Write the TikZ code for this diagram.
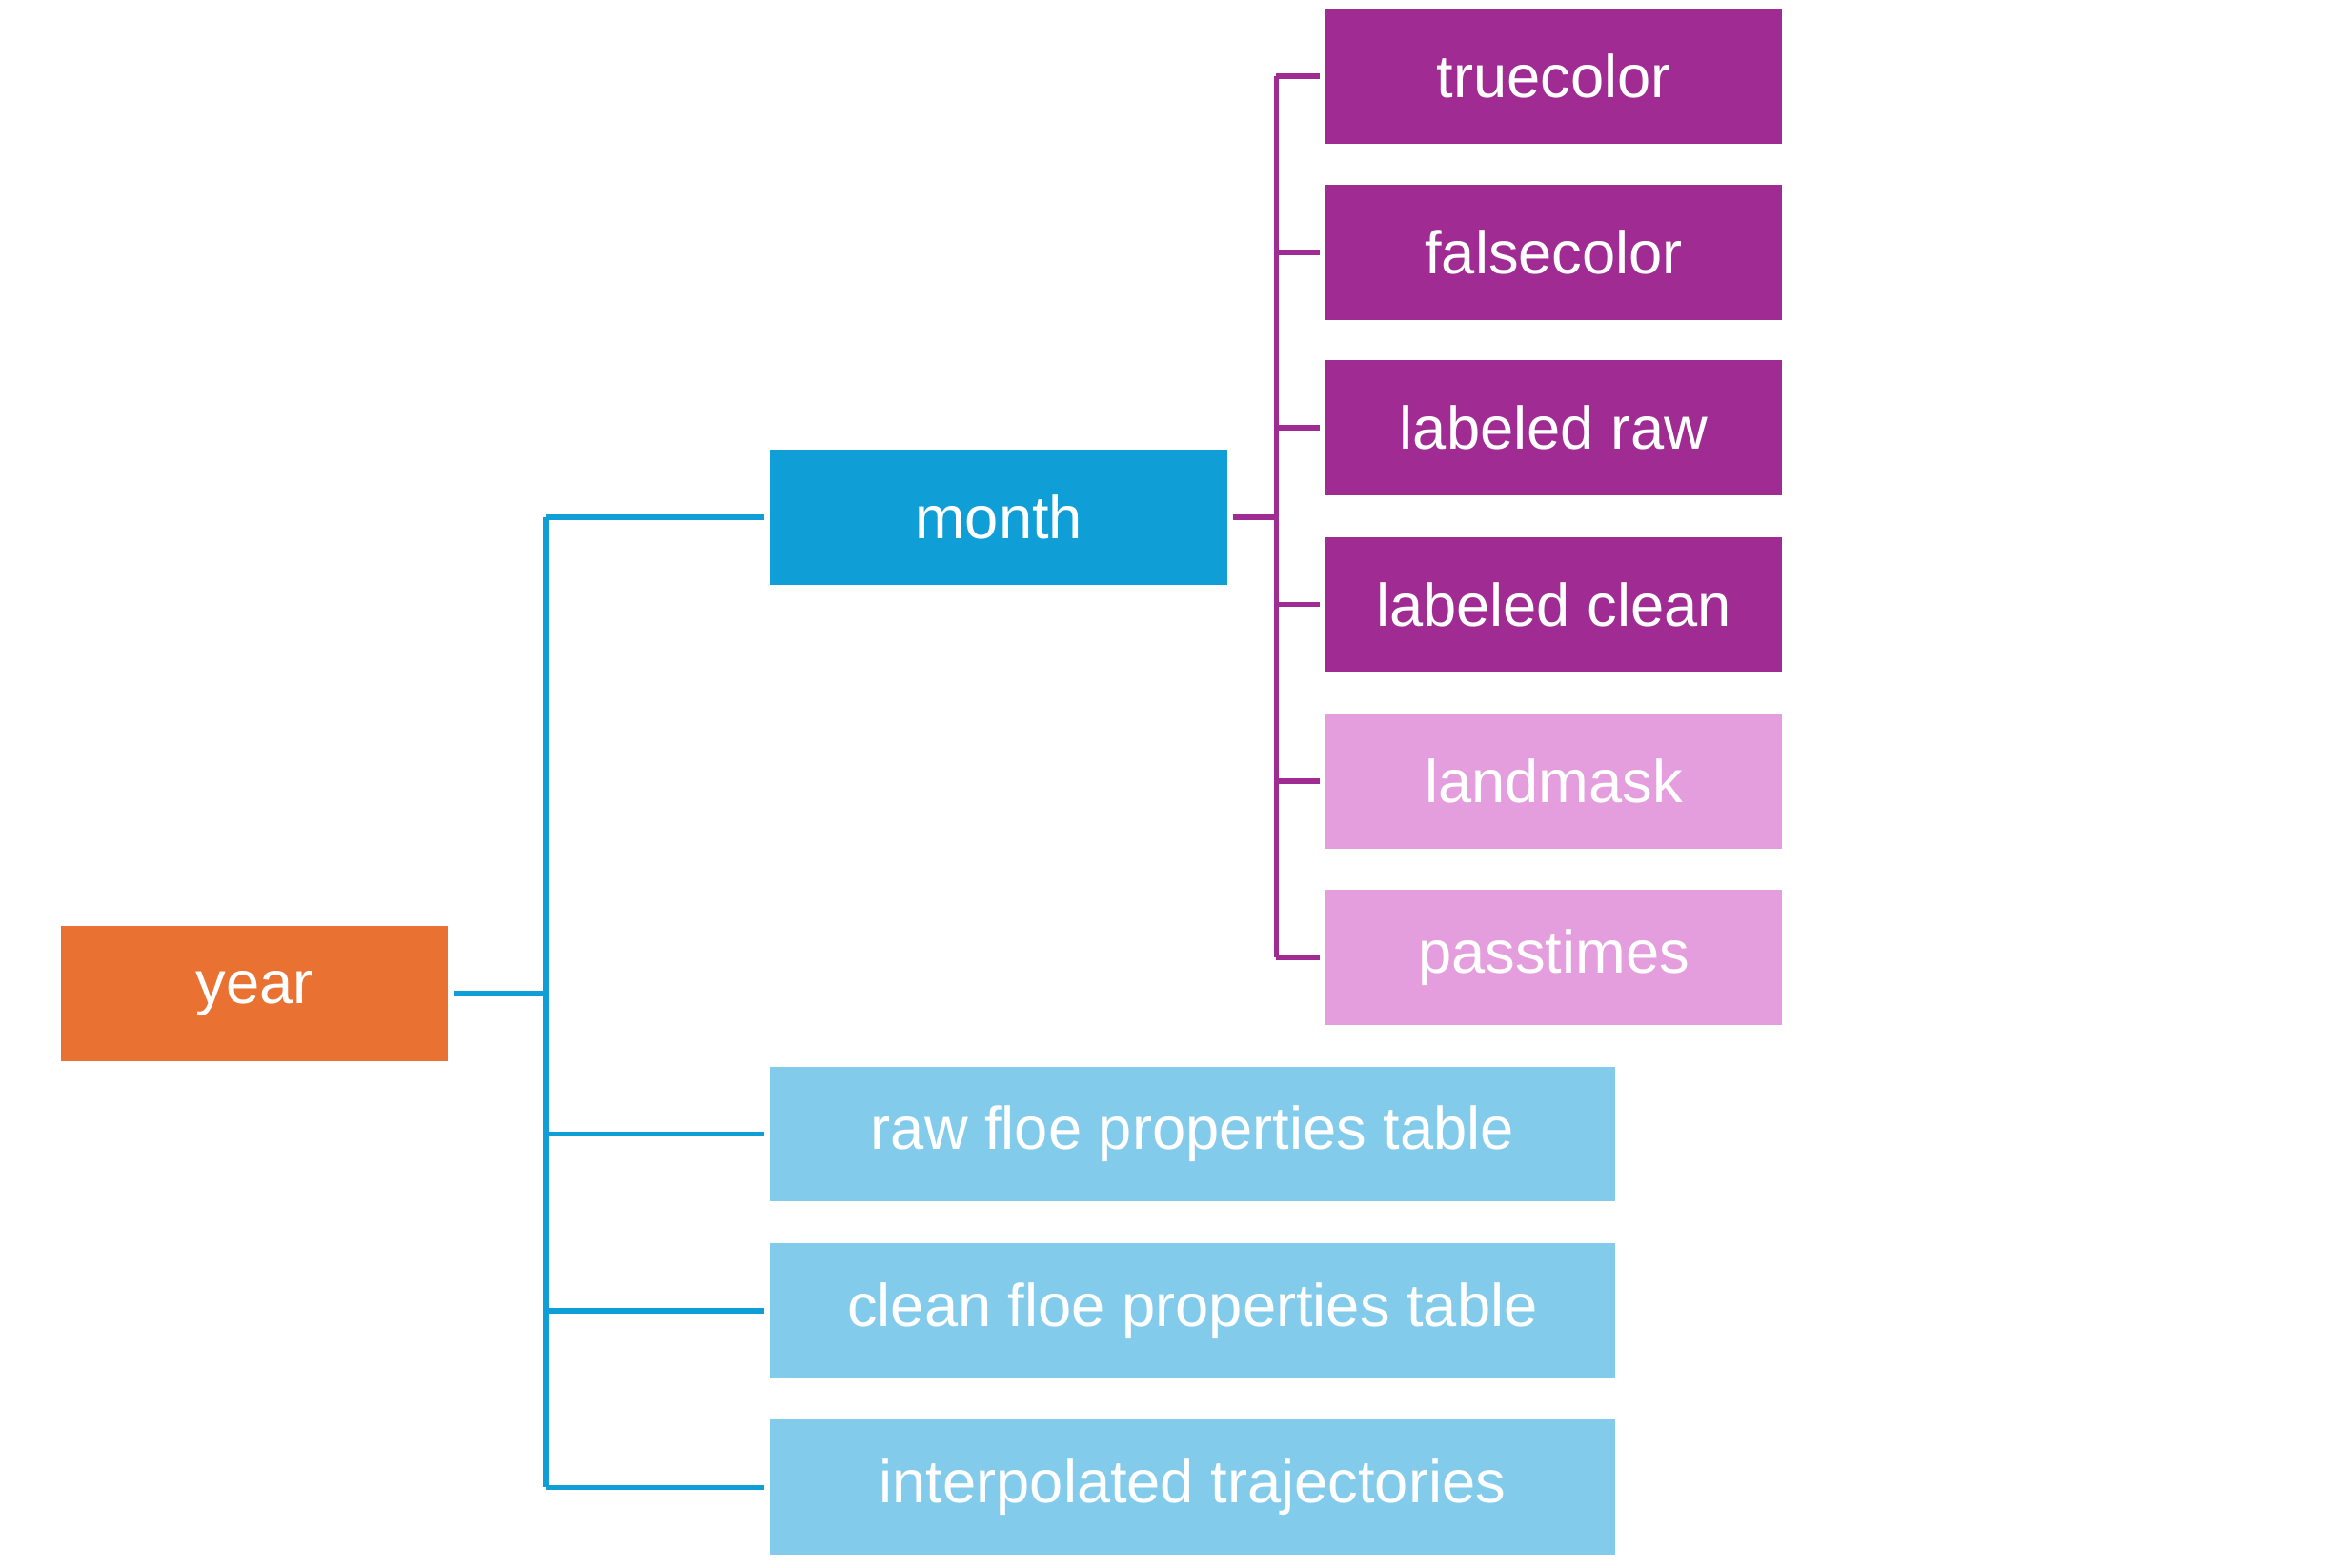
\documentclass[tikz,border=0pt]{standalone}
\usepackage{fontspec}
\setmainfont{Liberation Sans}
\usetikzlibrary{positioning}

\definecolor{yearorange}{HTML}{E97132}
\definecolor{monthblue}{HTML}{0F9ED5}
\definecolor{tableblue}{HTML}{83CBEB}
\definecolor{imgpurple}{HTML}{A02B93}
\definecolor{imgpink}{HTML}{E59EDD}

\tikzset{
    box/.style={rectangle, draw=none, text=white, minimum height=1.417cm,
        inner sep=0pt, outer sep=0.6mm, font=\fontsize{18}{22}\selectfont},
    yearbox/.style={box, fill=yearorange, minimum width=4.065cm},
    monthbox/.style={box, fill=monthblue, minimum width=4.797cm},
    tablebox/.style={box, fill=tableblue, minimum width=8.862cm},
    imgbox/.style={box, fill=imgpurple, minimum width=4.797cm},
    maskbox/.style={box, fill=imgpink, minimum width=4.797cm},
    bluelink/.style={draw=monthblue, line width=1.6pt},
    purplelink/.style={draw=imgpurple, line width=1.6pt}
}

\begin{document}
\begin{tikzpicture}[y=-1cm]

        \useasboundingbox (0,0) rectangle (24.42,16.45);

        % year and its children
        \node[yearbox] (year) at (2.671,10.427) {year};
        \node[monthbox] (month) at (10.481,5.428) {month};
        \node[tablebox] (rawtable) at (12.514,11.906) {raw floe properties table};
        \node[tablebox] (cleantable) at (12.514,13.760) {clean floe properties table};
        \node[tablebox] (trajectories) at (12.514,15.613) {interpolated trajectories};

        % month children
        \node[imgbox] (truecolor) at (16.306,0.802) {truecolor};
        \node[imgbox] (falsecolor) at (16.306,2.648) {falsecolor};
        \node[imgbox] (labeledraw) at (16.306,4.493) {labeled raw};
        \node[imgbox] (labeledclean) at (16.306,6.346) {labeled clean};
        \node[maskbox] (landmask) at (16.306,8.200) {landmask};
        \node[maskbox] (passtimes) at (16.306,10.053) {passtimes};

        \coordinate (yeartrunk) at (5.731,0);
        \coordinate (monthtrunk) at (13.394,0);

        % year tree
        \draw[bluelink] (year.east) -- (year.east -| yeartrunk);
        \draw[bluelink] (month.west -| yeartrunk) -- (trajectories.west -| yeartrunk);
        \foreach \n in {month, rawtable, cleantable, trajectories}
            \draw[bluelink] (\n.west -| yeartrunk) -- (\n.west);

        % month tree
        \draw[purplelink] (month.east) -- (month.east -| monthtrunk);
        \draw[purplelink] (truecolor.west -| monthtrunk) -- (passtimes.west -| monthtrunk);
        \foreach \n in {truecolor, falsecolor, labeledraw, labeledclean, landmask, passtimes}
            \draw[purplelink] (\n.west -| monthtrunk) -- (\n.west);

    \end{tikzpicture}
\end{document}
